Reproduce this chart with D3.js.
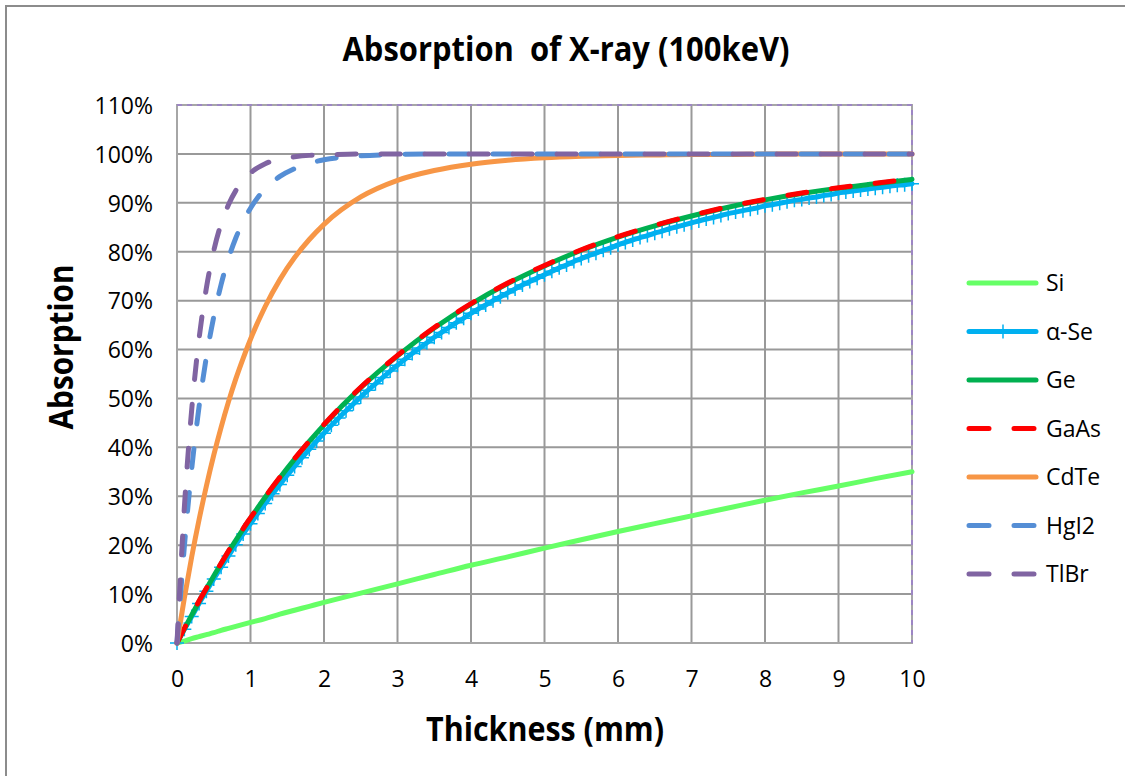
<!DOCTYPE html>
<html><head><meta charset="utf-8">
<script src="https://cdn.jsdelivr.net/npm/d3@7"></script>
<style>body{margin:0;background:#fff} svg{display:block} text{font-family:"Open Sans",sans-serif;fill:#000}</style>
</head><body><svg id="c" width="1125" height="776"></svg>
<script>
const titleText = "Absorption  of X-ray (100keV)";
const xTitle = "Thickness (mm)";
const yTitle = "Absorption";
const xTickValues = [0,1,2,3,4,5,6,7,8,9,10];
const yTickValues = [0,0.1,0.2,0.3,0.4,0.5,0.6,0.7,0.8,0.9,1.0,1.1];
const seriesNames = ["Si","α-Se","Ge","GaAs","CdTe","HgI2","TlBr"];
const thickness = [0,0.1,0.2,0.3,0.4,0.5,0.6,0.7,0.8,0.9,1,1.2,1.4,1.6,1.8,2,2.5,3,3.5,4,4.5,5,5.5,6,6.5,7,7.5,8,8.5,9,9.5,10];
const siAbs   = [0,0.004,0.009,0.013,0.017,0.021,0.026,0.030,0.034,0.038,0.042,0.050,0.059,0.067,0.075,0.083,0.102,0.121,0.140,0.159,0.176,0.194,0.211,0.228,0.244,0.260,0.276,0.292,0.307,0.321,0.336,0.350];
const geAbs   = [0,0.029,0.057,0.085,0.111,0.137,0.162,0.187,0.210,0.233,0.255,0.298,0.338,0.376,0.412,0.446,0.522,0.587,0.644,0.693,0.735,0.771,0.803,0.830,0.853,0.873,0.891,0.906,0.919,0.930,0.939,0.948];
const gaasAbs = [0,0.030,0.058,0.086,0.112,0.138,0.163,0.188,0.211,0.234,0.256,0.299,0.339,0.377,0.413,0.447,0.523,0.588,0.645,0.694,0.736,0.772,0.804,0.831,0.854,0.874,0.892,0.907,0.920,0.931,0.940,0.949];
const cdteAbs = [0,0.092,0.176,0.252,0.321,0.384,0.441,0.493,0.540,0.582,0.621,0.688,0.743,0.788,0.825,0.856,0.912,0.946,0.966,0.979,0.987,0.992,0.995,0.997,0.998,0.999,0.999,1,1,1,1,1];
const hgi2Abs = [0,0.197,0.356,0.483,0.585,0.667,0.733,0.786,0.828,0.862,0.889,0.929,0.954,0.970,0.981,0.988,0.996,0.999,1,1,1,1,1,1,1,1,1,1,1,1,1,1];
const tlbrAbs = [0,0.277,0.477,0.622,0.726,0.802,0.857,0.896,0.925,0.946,0.961,0.980,0.989,0.994,0.997,0.998,1,1,1,1,1,1,1,1,1,1,1,1,1,1,1,1];
// alpha-Se sampled every 0.1 mm (markers at each sample)
const seAbs = [0,0.028,0.054,0.081,0.106,0.131,0.155,0.178,0.201,0.223,
0.244,0.265,0.285,0.305,0.324,0.343,0.361,0.379,0.396,0.413,
0.429,0.445,0.460,0.475,0.489,0.503,0.517,0.530,0.543,0.556,
0.568,0.580,0.592,0.603,0.614,0.625,0.635,0.645,0.655,0.664,
0.674,0.683,0.691,0.700,0.708,0.716,0.724,0.732,0.739,0.746,
0.753,0.760,0.767,0.773,0.780,0.786,0.792,0.797,0.803,0.808,
0.814,0.819,0.824,0.829,0.833,0.838,0.842,0.847,0.851,0.855,
0.859,0.863,0.867,0.870,0.874,0.878,0.881,0.884,0.887,0.890,
0.894,0.896,0.899,0.902,0.905,0.907,0.910,0.912,0.915,0.917,
0.920,0.922,0.924,0.926,0.928,0.930,0.932,0.934,0.936,0.937,
0.939];
const seThickness = seAbs.map((_, i) => i / 10);

const colors = {"Si":"#66FF66","α-Se":"#00B0F0","Ge":"#00B050","GaAs":"#FF0000","CdTe":"#F79646","HgI2":"#558ED5","TlBr":"#8064A2"};
const dashed = {"GaAs":true,"HgI2":true,"TlBr":true};

const series = [
  {name:"Si", xs:thickness, ys:siAbs},
  {name:"α-Se", xs:seThickness, ys:seAbs, marker:true},
  {name:"Ge", xs:thickness, ys:geAbs},
  {name:"GaAs", xs:thickness, ys:gaasAbs},
  {name:"CdTe", xs:thickness, ys:cdteAbs},
  {name:"HgI2", xs:thickness, ys:hgi2Abs},
  {name:"TlBr", xs:thickness, ys:tlbrAbs}
];

const svg = d3.select("#c");
const L = 177, R = 912, T = 105, B = 643;
const x = d3.scaleLinear().domain([0,10]).range([L,R]);
const y = d3.scaleLinear().domain([0,1.1]).range([B,T]);

// outer chart border
svg.append("rect").attr("x",6).attr("y",6).attr("width",1130).attr("height",780)
  .attr("fill","#fff").attr("stroke","#8c8c8c").attr("stroke-width",2);

// gridlines
svg.append("g").selectAll("line").data(xTickValues).join("line")
  .attr("x1",d=>x(d)).attr("x2",d=>x(d)).attr("y1",T).attr("y2",B)
  .attr("stroke","#999").attr("stroke-width",2);
svg.append("g").selectAll("line").data(yTickValues).join("line")
  .attr("x1",L).attr("x2",R).attr("y1",d=>y(d)).attr("y2",d=>y(d))
  .attr("stroke","#999").attr("stroke-width",2);

// plot area border (gray with purple dashes on top/right)
svg.append("rect").attr("x",L).attr("y",T).attr("width",R-L).attr("height",B-T)
  .attr("fill","none").attr("stroke","#a6a6a6").attr("stroke-width",2);
svg.append("path").attr("d",`M${L},${T}H${R}V${B}`).attr("fill","none")
  .attr("stroke","#9d86c4").attr("stroke-width",2).attr("stroke-dasharray","5,5");

// axes tick labels via d3 axes
const xAxis = d3.axisBottom(x).tickValues(xTickValues).tickSize(0).tickPadding(0).tickFormat(d3.format("d"));
const gx = svg.append("g").attr("transform",`translate(0,${B})`).call(xAxis);
gx.select(".domain").remove();
gx.selectAll("text").attr("dy",null).attr("y",44).style("font-size","23px").style("font-family","'Open Sans',sans-serif").attr("fill","#000");

const yAxis = d3.axisLeft(y).tickValues(yTickValues).tickSize(0).tickPadding(0).tickFormat(d3.format(".0%"));
const gy = svg.append("g").attr("transform",`translate(${L},0)`).call(yAxis);
gy.select(".domain").remove();
gy.selectAll("text").attr("x",-24).attr("dy","0.36em").style("font-size","23px").style("font-family","'Open Sans',sans-serif").attr("fill","#000");

// series lines
const line = d3.line().x(d=>x(d[0])).y(d=>y(d[1])).curve(d3.curveMonotoneX);
const gLines = svg.append("g");
series.forEach(s => {
  const pts = s.xs.map((v,i)=>[v, s.ys[i]]);
  gLines.append("path").datum(pts).attr("d",line).attr("fill","none")
    .attr("stroke",colors[s.name]).attr("stroke-width",5)
    .attr("stroke-linecap","round").attr("stroke-linejoin","round")
    .attr("stroke-dasharray",dashed[s.name] ? "19,25" : null);
  if (s.marker) {
    const mk = gLines.append("g");
    pts.forEach(p => {
      mk.append("path").attr("d",`M${x(p[0])-7},${y(p[1])}h14M${x(p[0])},${y(p[1])-7}v14`)
        .attr("stroke",colors[s.name]).attr("stroke-width",1.5).attr("fill","none");
    });
  }
});

// legend
const legY0 = 283, legStep = 48.5;
const leg = svg.append("g");
seriesNames.forEach((n,i) => {
  const yy = legY0 + i*legStep;
  leg.append("line").attr("x1",969).attr("x2",1036).attr("y1",yy).attr("y2",yy)
    .attr("stroke",colors[n]).attr("stroke-width",5).attr("stroke-linecap","round")
    .attr("stroke-dasharray",dashed[n] ? "20,25" : null);
  if (n === "α-Se") {
    leg.append("path").attr("d",`M996,${yy}h14M1003,${yy-7}v14`).attr("stroke",colors[n]).attr("stroke-width",1.5);
  }
  leg.append("text").attr("x",1046).attr("y",yy).attr("dy","0.36em")
    .style("font-size","23px").text(n);
});

// titles
svg.append("text").attr("x",566).attr("y",61).attr("text-anchor","middle")
  .style("font-size","34px").style("font-weight","bold").style("white-space","pre")
  .attr("textLength",447).attr("lengthAdjust","spacingAndGlyphs").text(titleText);
svg.append("text").attr("x",545).attr("y",741).attr("text-anchor","middle")
  .style("font-size","34px").style("font-weight","bold")
  .attr("textLength",238).attr("lengthAdjust","spacingAndGlyphs").text(xTitle);
svg.append("text").attr("transform","translate(73,347) rotate(-90)").attr("text-anchor","middle")
  .style("font-size","34px").style("font-weight","bold")
  .attr("textLength",165).attr("lengthAdjust","spacingAndGlyphs").text(yTitle);
</script></body></html>
